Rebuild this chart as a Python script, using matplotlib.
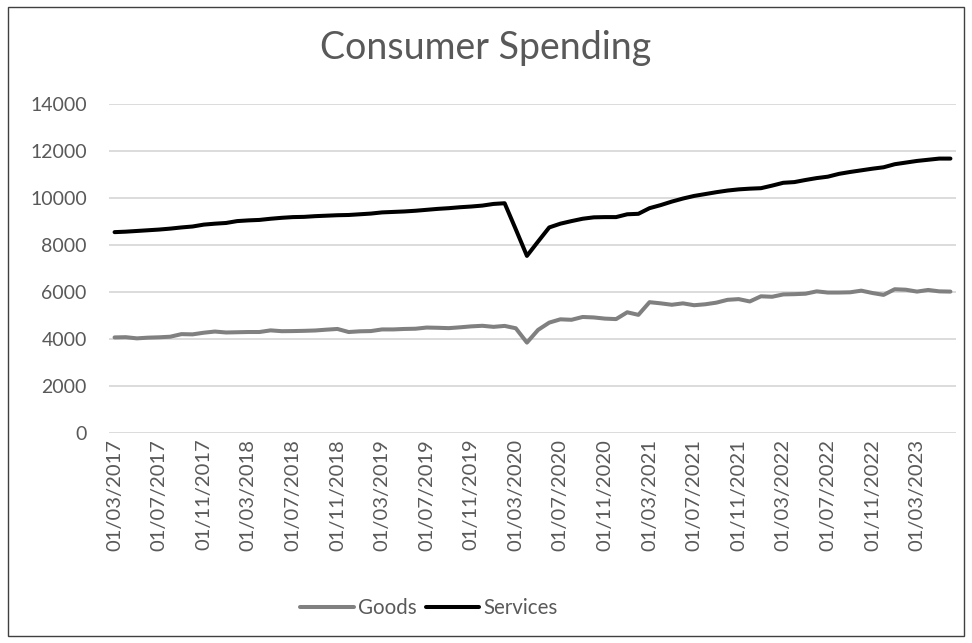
import numpy as np
import pandas as pd
import matplotlib
matplotlib.use('Agg')
import matplotlib.pyplot as plt
from matplotlib.patches import Rectangle

# monthly consumer spending, March 2017 - June 2023
months = pd.date_range('2017-03-01', '2023-06-01', freq='MS')

goods = [
    4080, 4090, 4040, 4070, 4085, 4110, 4220, 4210, 4280, 4330,
    4290, 4300, 4310, 4310, 4380, 4345, 4350, 4360, 4375, 4410,
    4440, 4310, 4340, 4350, 4420, 4420, 4440, 4450, 4500, 4490,
    4475, 4510, 4550, 4575, 4530, 4570, 4470, 3860, 4400, 4710,
    4850, 4830, 4950, 4930, 4880, 4860, 5150, 5040, 5580, 5530,
    5470, 5530, 5450, 5490, 5560, 5680, 5710, 5610, 5830, 5810,
    5910, 5920, 5940, 6040, 5990, 5990, 6000, 6070, 5970, 5890,
    6130, 6110, 6030, 6100, 6040, 6030,
]

services = [
    8560, 8580, 8610, 8640, 8670, 8710, 8760, 8800, 8880, 8920,
    8950, 9030, 9060, 9080, 9130, 9170, 9200, 9210, 9240, 9260,
    9280, 9290, 9320, 9350, 9400, 9420, 9440, 9470, 9510, 9550,
    9580, 9620, 9650, 9690, 9760, 9790, 8680, 7550, 8160, 8760,
    8920, 9030, 9130, 9190, 9200, 9200, 9320, 9340, 9580, 9710,
    9860, 9990, 10100, 10180, 10260, 10330, 10380, 10410, 10430, 10540,
    10660, 10690, 10780, 10860, 10920, 11040, 11120, 11190, 11260, 11320,
    11450, 11520, 11590, 11640, 11690, 11690,
]

labels = [d.strftime('01/%m/%Y') for d in months]

TEXT = '#595959'
GRID = '#d9d9d9'
plt.rcParams['font.family'] = ['Lato', 'DejaVu Sans']


def main():
    fig = plt.figure(figsize=(9.72, 6.43), dpi=100)
    ax = fig.add_axes([109 / 972, 1 - 433.3 / 643, 847 / 972, 329 / 643])

    x = np.arange(len(months))
    ax.plot(x, goods, color='#808080', lw=2.9, solid_joinstyle='round', solid_capstyle='round', label='Goods')
    ax.plot(x, services, color='black', lw=2.9, solid_joinstyle='round', solid_capstyle='round', label='Services')

    ax.set_xlim(-0.5, len(months) - 0.5)
    ax.set_ylim(0, 14000)
    ax.set_yticks(range(0, 14001, 2000))
    ax.yaxis.grid(True, color=GRID, lw=1.3)
    ax.set_axisbelow(True)

    ticks = x[::4]
    ax.set_xticks(ticks)
    ax.set_xticklabels([labels[i] for i in ticks], rotation=90, va='top', ha='center')

    for spine in ax.spines.values():
        spine.set_visible(False)
    ax.tick_params(axis='y', length=0, colors=TEXT, labelsize=14, pad=16)
    ax.tick_params(axis='x', length=0, colors=TEXT, labelsize=14.5, pad=4)

    fig.text(0.5, 1 - 48 / 643, 'Consumer Spending', ha='center', va='center', fontsize=27, color=TEXT)

    fig.legend(loc='center', bbox_to_anchor=(429 / 972, 1 - 608 / 643), ncol=2, frameon=False,
               fontsize=14.8, labelcolor=TEXT, handlelength=2.6, handletextpad=0.2, columnspacing=0.45)

    fig.patches.append(Rectangle((8 / 972, 1 - 636 / 643), 956 / 972, 629 / 643, transform=fig.transFigure,
                                 fill=False, edgecolor='#404040', lw=1))

    fig.savefig('out.png', dpi=100)


if __name__ == '__main__':
    main()
